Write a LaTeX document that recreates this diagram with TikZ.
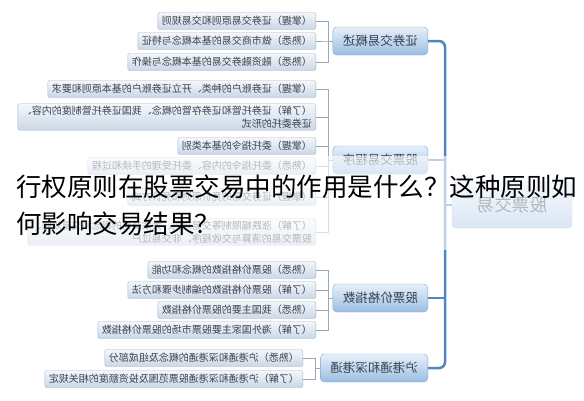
\documentclass[tikz,border=0pt]{standalone}
\usepackage{fontspec}
\newfontfamily\cjk{Noto Sans CJK SC}
\usetikzlibrary{calc}

\definecolor{spineblue}{HTML}{4F86C2}
\definecolor{twiggray}{HTML}{9AA9BA}
\definecolor{leaftop}{HTML}{F4F7FB}
\definecolor{leafbot}{HTML}{CAD7E6}
\definecolor{leafedge}{HTML}{A3B5CA}
\definecolor{branchtop}{HTML}{E6F0FA}
\definecolor{branchbot}{HTML}{9CBDE2}
\definecolor{branchedge}{HTML}{86A8CF}
\definecolor{inktext}{HTML}{3A4350}

\begin{document}
\begin{tikzpicture}[x=1pt,y=-1pt,
  leaf/.style={draw=leafedge, rounded corners=2pt, top color=leaftop, bottom color=leafbot,
    font=\cjk\fontsize{10}{13}\selectfont, text=inktext, inner xsep=4pt, inner ysep=2pt,
    minimum height=17pt, anchor=west, align=left},
  branch/.style={draw=branchedge, rounded corners=4pt, top color=branchtop, bottom color=branchbot,
    font=\cjk\fontsize{12.5}{14}\selectfont, text=inktext, inner xsep=10pt,
    minimum height=28pt, anchor=west},
  hub/.style={branch, minimum width=120pt, minimum height=46pt, anchor=center,
    font=\cjk\fontsize{17.5}{20}\selectfont},
  spine/.style={draw=spineblue, line width=2.5pt, rounded corners=6pt},
  twig/.style={draw=twiggray, line width=0.8pt},
  caption/.style={font=\cjk\fontsize{25.5}{28}\selectfont, text=black, inner sep=0pt, anchor=west}]

\useasboundingbox (0,0) rectangle (584,400);

% the map is printed mirrored
\begin{scope}[xshift=584pt, xscale=-1, every node/.append style={transform shape}]

\node[hub] (hub) at (72,205) {股票交易};

\node[branch] (b1) at (156,41) {证券交易概述};
\node[branch] (b2) at (156,160) {股票交易程序};
\node[branch] (b3) at (156,298) {股票价格指数};
\node[branch] (b4) at (156,368) {沪港通和深港通};

\node[leaf] (l1) at (268,21) {（掌握）证券交易原则和交易规则};
\node[leaf] (l2) at (268,41) {（熟悉）做市商交易的基本概念与特征};
\node[leaf] (l3) at (268,62) {（熟悉）融资融券交易的基本概念与操作};

\node[leaf] (l4) at (268,89) {（掌握）证券账户的种类、开立证券账户的基本原则和要求};
\node[leaf] (l5) at (268,117) {（了解）证券托管和证券存管的概念、我国证券托管制度的内容、\\证券委托的形式};
\node[leaf] (l6) at (268,146) {（掌握）委托指令的基本类别};
\node[leaf] (l7) at (268,166) {（熟悉）委托指令的内容、委托受理的手续和过程};
\node[leaf] (l8) at (268,197) {（掌握）证券交易的竞价原则和竞价方式};
\node[leaf] (l9) at (268,232) {（了解）涨跌幅限制等交易规则、大宗交易的概念和交易规则、\\股票交易的清算与交收程序、非交易过户};

\node[leaf] (l10) at (268,270) {（熟悉）股票价格指数的概念和功能};
\node[leaf] (l11) at (268,290) {（了解）股票价格指数的编制步骤和方法};
\node[leaf] (l12) at (268,310) {（熟悉）我国主要的股票价格指数};
\node[leaf] (l13) at (268,330) {（了解）海外国家主要股票市场的股票价格指数};

\node[leaf] (l14) at (281,358) {（熟悉）沪港通和深港通的概念及组成部分};
\node[leaf] (l15) at (281,379) {（了解）沪港通和深港通股票范围及投资额度的相关规定};

% spine
\draw[spine] (b1.west) -- ++(-17,0) |- (b4.west);
\draw[spine] (b2.west) -- ++(-17,0);
\draw[spine] (b3.west) -- ++(-17,0);
\draw[spine] (hub.east) -- ++(7,0);

% brackets
\foreach \l in {l1,l2,l3} \draw[twig] (b1.east) -- ++(4,0) |- (\l.west);
\foreach \l in {l4,l5,l6,l7,l8,l9} \draw[twig] (b2.east) -- ++(4,0) |- (\l.west);
\foreach \l in {l10,l11,l12,l13} \draw[twig] (b3.east) -- ++(4,0) |- (\l.west);
\foreach \l in {l14,l15} \draw[twig] (b4.east) -- ++(4.5,0) |- (\l.west);

\end{scope}

% faded band behind the question
\fill[white, opacity=0.62] (0,156) rectangle (584,250);

\node[caption] (cap1) at (16,187) {行权原则在股票交易中的作用是什么？这种原则如};
\node[caption] (cap2) at (16,224) {何影响交易结果？};

\end{tikzpicture}
\end{document}
